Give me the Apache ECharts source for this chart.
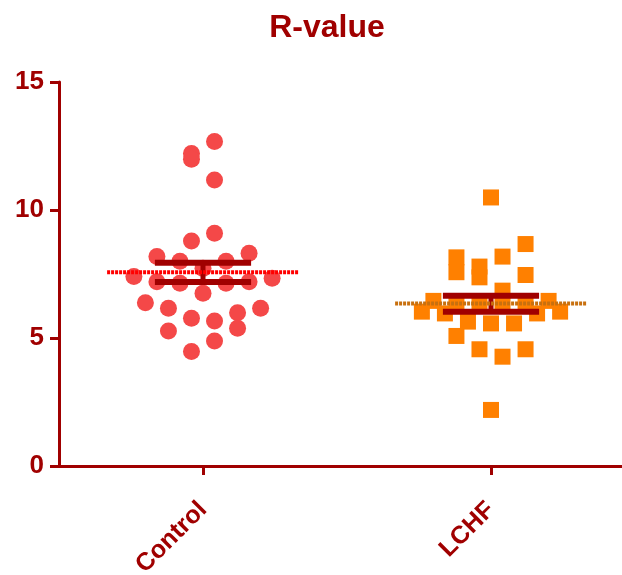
<!DOCTYPE html>
<html>
<head>
<meta charset="utf-8">
<title>R-value</title>
<script src="https://cdn.jsdelivr.net/npm/echarts@6.0.0/dist/echarts.min.js"></script>
<style>
    html, body { margin: 0; padding: 0; background: #fff; }
    #chart { width: 622px; height: 575px; }
</style>
</head>
<body>
<div id="chart"></div>
<script>
// 分组
var categories = ['Control', 'LCHF'];

// Control 组的各点数值 (圆点)
var controlValues = [12.68, 12.21, 11.98, 11.17, 9.09, 8.79, 8.18, 8.31, 8.0, 8.0,
    7.72, 7.40, 7.2, 7.14, 7.14, 7.2, 7.33, 6.75, 6.38, 6.16,
    6.16, 5.99, 5.77, 5.66, 5.27, 5.38, 4.88, 4.47];
// 每个点的水平错位 (半格数), 和上面一一对应
var controlJitter = [1, -1, -1, 1, 1, -1, -4, 4, -2, 2,
    0, -6, -4, -2, 2, 4, 6, 0, -5, -3,
    5, 3, -1, 1, -3, 3, 1, -1];

// LCHF 组 (方块)
var lchfValues = [10.49, 8.67, 8.15, 7.57, 7.79, 7.37, 8.18, 7.46, 6.85, 6.45,
    6.45, 6.32, 6.32, 6.32, 6.32, 6.03, 6.03, 5.96, 5.96, 5.64,
    5.57, 5.57, 5.08, 4.56, 4.56, 4.27, 2.19];
var lchfJitter = [0, 3, -3, -3, -1, -1, 1, 3, 1, -5,
    5, -3, -1, 1, 3, -6, 6, -4, 4, -2,
    0, 2, -3, -1, 3, 1, 0];

// 均值和 SEM 上下限
var meanValues = [7.57, 6.35];
var semUpper = [7.94, 6.65];
var semLower = [7.19, 6.03];

var yTicks = [0, 5, 10, 15];

var darkRed = '#a00000';
var jitterStep = 0.04;   // 一个半格在 x 轴上的宽度
var meanHalf = 0.333;    // 均值线半长
var capHalf = 0.167;     // 误差线横杠半长

function toPoints(values, jitter, center) {
    var pts = [];
    for (var i = 0; i < values.length; i++) {
        pts.push([center + jitter[i] * jitterStep, values[i]]);
    }
    return pts;
}

function seg(x1, y1, x2, y2, color, width, type, z) {
    return {
        type: 'line',
        data: [[x1, y1], [x2, y2]],
        symbol: 'none',
        silent: true,
        z: z,
        lineStyle: { color: color, width: width, type: type, cap: 'butt' }
    };
}

var series = [
    {
        name: categories[0],
        type: 'scatter',
        data: toPoints(controlValues, controlJitter, 0.5),
        symbol: 'circle',
        symbolSize: 17,
        itemStyle: { color: '#f44848', opacity: 1 },
        z: 2
    },
    {
        name: categories[1],
        type: 'scatter',
        data: toPoints(lchfValues, lchfJitter, 1.5),
        symbol: 'rect',
        symbolSize: 16,
        itemStyle: { color: '#ff8000', opacity: 1 },
        z: 2
    }
];

var meanColors = ['#ff0000', '#c8700f'];
for (var i = 0; i < categories.length; i++) {
    var c = i + 0.5;
    // 误差线
    series.push(seg(c - capHalf, semUpper[i], c + capHalf, semUpper[i], darkRed, 6, 'solid', 3));
    series.push(seg(c - capHalf, semLower[i], c + capHalf, semLower[i], darkRed, 6, 'solid', 3));
    series.push(seg(c, semLower[i], c, semUpper[i], darkRed, 5, 'solid', 3));
    // 均值虚线
    series.push(seg(c - meanHalf, meanValues[i], c + meanHalf, meanValues[i], meanColors[i], 4, [3, 1], 4));
}

var chart = echarts.init(document.getElementById('chart'));
var option = {
    animation: false,
    backgroundColor: '#fff',
    title: {
        text: 'R-value',
        left: 322,
        top: 7,
        textAlign: 'center',
        textStyle: {
            color: darkRed,
            fontSize: 32,
            fontWeight: 'bold',
            fontFamily: 'Liberation Sans, Arial, sans-serif'
        }
    },
    grid: {
        left: 59,
        right: 0,
        top: 82,
        bottom: 109,
        outerBoundsMode: 'none'
    },
    xAxis: {
        type: 'value',
        min: 0,
        max: 563 / 288,
        splitLine: { show: false },
        axisLine: { lineStyle: { color: darkRed, width: 3 } },
        axisTick: {
            show: true,
            length: 9,
            customValues: [0.5, 1.5],
            lineStyle: { color: darkRed, width: 3 }
        },
        axisLabel: {
            customValues: [0.5, 1.5],
            rotate: 45,
            margin: 40,
            color: darkRed,
            fontSize: 25,
            fontWeight: 'bold',
            fontFamily: 'Liberation Sans, Arial, sans-serif',
            formatter: function (v) {
                return categories[Math.round(v - 0.5)];
            }
        }
    },
    yAxis: {
        type: 'value',
        min: yTicks[0],
        max: yTicks[yTicks.length - 1],
        interval: 5,
        splitLine: { show: false },
        axisLine: { show: true, lineStyle: { color: darkRed, width: 3 } },
        axisTick: { show: true, length: 9, lineStyle: { color: darkRed, width: 3 } },
        axisLabel: {
            margin: 15,
            color: darkRed,
            fontSize: 26,
            fontWeight: 'bold',
            fontFamily: 'Liberation Sans, Arial, sans-serif'
        }
    },
    series: series
};
chart.setOption(option);
</script>
</body>
</html>
